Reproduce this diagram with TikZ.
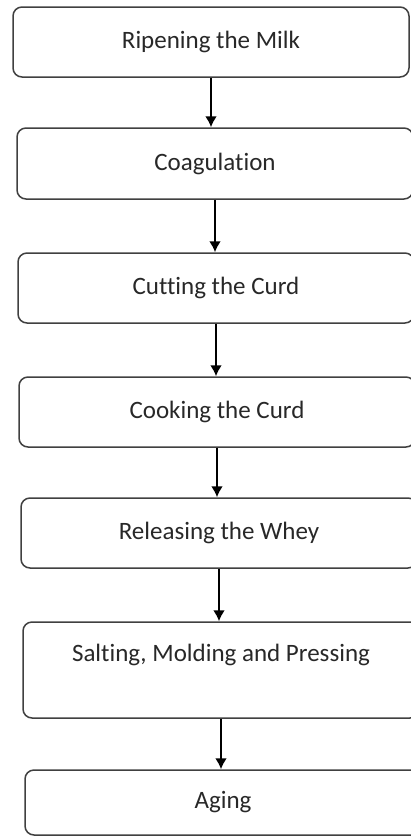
\documentclass[tikz,border=0pt]{standalone}
\usepackage{fontspec}
\setmainfont{Carlito}[Ligatures=NoCommon]
\usepackage{xcolor}
\usetikzlibrary{shapes,arrows,arrows.meta,positioning}
\definecolor{boxline}{RGB}{64,64,64}
\definecolor{boxtext}{RGB}{40,40,40}

\begin{document}
\begin{tikzpicture}[x=0.5pt, y=-0.5pt,
    stepbox/.style={draw=boxline, line width=0.75pt, rounded corners=4.5pt, fill=white,
        text=boxtext, font=\fontsize{12.5}{15}\selectfont, minimum width=198pt, minimum height=35pt},
    flow/.style={-{Latex[length=5.5pt,width=6pt]}, line width=1.2pt, black}]
    \useasboundingbox (0,0) rectangle (411,837);
    \node[stepbox] (ripen) at (211,42) {Ripening the Milk};
    \node[stepbox, minimum height=35.5pt] (coag) at (215,163.5) {Coagulation};
    \node[stepbox] (cut) at (216,288) {Cutting the Curd};
    \node[stepbox] (cook) at (217,412) {Cooking the Curd};
    \node[stepbox] (whey) at (219,533) {Releasing the Whey};
    \node[stepbox, minimum height=48pt, text depth=17pt] (salt) at (221,670) {Salting, Molding and Pressing};
    \node[stepbox, minimum height=32.5pt] (aging) at (223,802.5) {Aging};
    \draw[flow] (ripen.south) -- (ripen.south |- coag.north);
    \draw[flow] (coag.south) -- (coag.south |- cut.north);
    \draw[flow] (cut.south) -- (cut.south |- cook.north);
    \draw[flow] (cook.south) -- (cook.south |- whey.north);
    \draw[flow] (whey.south) -- (whey.south |- salt.north);
    \draw[flow] (salt.south) -- (salt.south |- aging.north);
\end{tikzpicture}
\end{document}
